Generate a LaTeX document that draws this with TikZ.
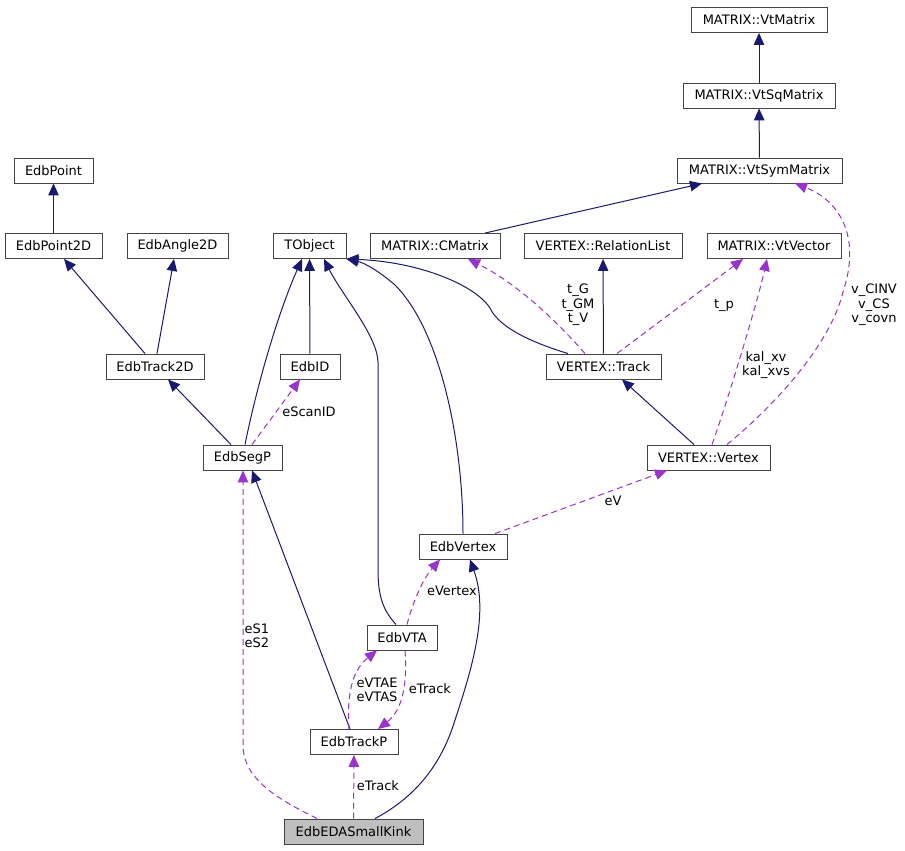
\documentclass[tikz,border=0pt]{standalone}
\usepackage{fontspec}
\setmainfont{DejaVu Sans}
\usetikzlibrary{arrows.meta}
\definecolor{edgeblue}{HTML}{191970}
\definecolor{edgepurple}{HTML}{9A32CD}
\definecolor{nodeborder}{HTML}{444444}
\definecolor{mainfill}{HTML}{BFBFBF}
\begin{document}
\begin{tikzpicture}[x=1pt,y=-1pt,font=\fontsize{13}{14.5}\selectfont,
  cls/.style={draw=nodeborder,fill=white,line width=0.9pt,minimum height=25pt,inner sep=0pt},
  inh/.style={draw=edgeblue,line width=1pt,-{Triangle[length=12pt,width=10.5pt]},edgeblue},
  use/.style={draw=edgepurple,line width=1pt,dash pattern=on 6pt off 4pt,-{Triangle[length=12pt,width=10.5pt]},edgepurple},
  lbl/.style={align=center,inner sep=0pt}]
\useasboundingbox (0,0) rectangle (905,851);
% nodes
\node[cls,minimum width=136pt] (vtmatrix) at (759,20) {MATRIX::VtMatrix};
\node[cls,minimum width=152pt] (vtsq) at (759,95.5) {MATRIX::VtSqMatrix};
\node[cls,minimum width=165pt] (vtsym) at (759.5,170.5) {MATRIX::VtSymMatrix};
\node[cls,minimum width=79pt] (edbpoint) at (53.5,170.5) {EdbPoint};
\node[cls,minimum width=97pt] (edbpoint2d) at (53.5,246) {EdbPoint2D};
\node[cls,minimum width=101pt] (edbangle) at (177.5,246) {EdbAngle2D};
\node[cls,minimum width=73pt] (tobject) at (309.5,246) {TObject};
\node[cls,minimum width=130pt] (cmatrix) at (435,246) {MATRIX::CMatrix};
\node[cls,minimum width=158pt] (rellist) at (603,246) {VERTEX::RelationList};
\node[cls,minimum width=134pt] (vtvector) at (774,246) {MATRIX::VtVector};
\node[cls,minimum width=98pt] (track2d) at (155,366.5) {EdbTrack2D};
\node[cls,minimum width=60pt] (edbid) at (310,366.5) {EdbID};
\node[cls,minimum width=115pt] (vtrack) at (603.5,366.5) {VERTEX::Track};
\node[cls,minimum width=79pt] (segp) at (242.5,457.5) {EdbSegP};
\node[cls,minimum width=123pt] (vvertex) at (708.5,457.5) {VERTEX::Vertex};
\node[cls,minimum width=88pt] (edbvertex) at (463,546.5) {EdbVertex};
\node[cls,minimum width=70pt] (edbvta) at (402,637.5) {EdbVTA};
\node[cls,minimum width=88pt] (trackp) at (354,742) {EdbTrackP};
\node[cls,fill=mainfill,minimum width=139pt] (kink) at (353.5,831.5) {EdbEDASmallKink};
% inheritance edges
\draw[inh] (vtsq) -- (vtmatrix);
\draw[inh] (vtsym) -- (vtsq);
\draw[inh] (edbpoint2d) -- (edbpoint);
\draw[inh] ([xshift=-10pt]track2d.north) -- ([xshift=10.5pt]edbpoint2d.south);
\draw[inh] ([xshift=2pt]track2d.north) -- ([xshift=-3.5pt]edbangle.south);
\draw[inh] ([xshift=50pt]cmatrix.north) -- ([xshift=-57.5pt]vtsym.south);
\draw[inh] ([xshift=2.5pt]segp.north) .. controls (255,395) and (275,320) .. ([xshift=-7.5pt]tobject.south);
\draw[inh] (edbid) -- (tobject);
\draw[inh] ([xshift=-11.5pt]segp.north) -- ([xshift=13pt]track2d.south);
\draw[inh] ([xshift=-6pt]edbvta.north) .. controls (385,612) and (378,600) .. (378,570) -- (378,362) .. controls (377,335) and (342,295) .. ([xshift=14.5pt]tobject.south);
\draw[inh] (edbvertex.north) .. controls (463,440) and (440,330) .. (395,285) .. controls (380,272) and (365,263) .. (tobject.south east);
\draw[inh] ([xshift=-35.5pt]vtrack.north) .. controls (540,345) and (500,330) .. (490,308) .. controls (475,285) and (420,262) .. (tobject.south east);
\draw[inh] (vtrack) -- (rellist);
\draw[inh] ([xshift=-14.5pt]vvertex.north) -- ([xshift=18.5pt]vtrack.south);
\draw[inh] ([xshift=-4pt]trackp.north) -- ([xshift=9.5pt]segp.south);
\draw[inh] ([xshift=21.5pt]kink.north) .. controls (410,800) and (440,770) .. (455,720) .. controls (475,660) and (488,610) .. ([xshift=7pt]edbvertex.south);
% usage edges
\draw[use] ([xshift=9.5pt]segp.north) -- ([xshift=-10pt]edbid.south);
\draw[use] ([xshift=-18.5pt]vtrack.north) .. controls (560,325) and (520,285) .. ([xshift=33pt]cmatrix.south);
\draw[use] ([xshift=13.5pt]vtrack.north) -- ([xshift=-31pt]vtvector.south);
\draw[use] ([xshift=3.5pt]vvertex.north) .. controls (728,400) and (758,300) .. ([xshift=-7pt]vtvector.south);
\draw[use] ([xshift=18.5pt]vvertex.north) .. controls (775,405) and (830,345) .. (843,292) .. controls (862,235) and (838,200) .. ([xshift=35.5pt]vtsym.south);
\draw[use] ([xshift=32pt]edbvertex.north) -- ([xshift=-41.5pt]vvertex.south);
\draw[use] ([xshift=5pt]edbvta.north) .. controls (412,605) and (422,580) .. ([xshift=-23pt]edbvertex.south);
\draw[use] ([xshift=-5pt]trackp.north) .. controls (347,700) and (350,672) .. ([xshift=-25pt]edbvta.south);
\draw[use] ([xshift=3pt]edbvta.south) .. controls (408,690) and (400,712) .. ([xshift=24pt]trackp.north);
\draw[use] (kink) -- (trackp);
\draw[use] ([xshift=-36.5pt]kink.north) .. controls (280,800) and (243,780) .. (243,745) -- ([xshift=0.5pt]segp.south);
% labels
\node[lbl] (lescanid) at (309,412) {eScanID};
\node[lbl] (ltg) at (578,305) {t\_G\\t\_GM\\t\_V};
\node[lbl] (ltp) at (724,305) {t\_p};
\node[lbl] (lvcinv) at (874,305) {v\_CINV\\v\_CS\\v\_covn};
\node[lbl] (lkal) at (766,365) {kal\_xv\\kal\_xvs};
\node[lbl] (lev) at (613,501) {eV};
\node[lbl] (levertex) at (452,591) {eVertex};
\node[lbl] (les) at (257,636) {eS1\\eS2};
\node[lbl] (levta) at (377,690) {eVTAE\\eVTAS};
\node[lbl] (letrackone) at (430,689) {eTrack};
\node[lbl] (letracktwo) at (378,786) {eTrack};
\end{tikzpicture}
\end{document}
